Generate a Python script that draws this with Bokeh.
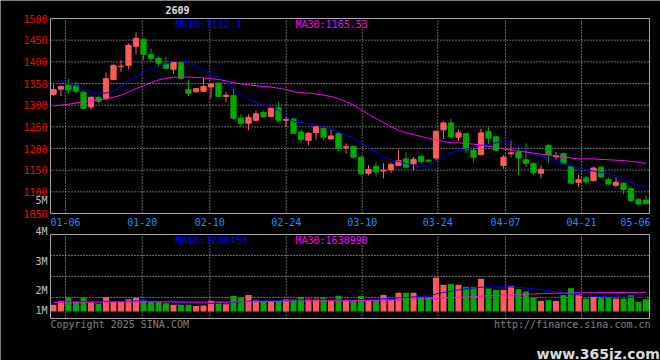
from bokeh.plotting import figure
from bokeh.models import ColumnDataSource, Range1d
from bokeh.core.properties import value
from bokeh.embed import file_html
from bokeh.resources import INLINE

# ---------------- data ----------------
dates = ["01-02", "01-03", "01-06", "01-07", "01-08", "01-09", "01-10", "01-13", "01-14", "01-15",
         "01-16", "01-17", "01-20", "01-21", "01-22", "01-23", "01-24", "01-27",
         "02-05", "02-06", "02-07", "02-10", "02-11", "02-12", "02-13", "02-14", "02-17", "02-18",
         "02-19", "02-20", "02-21", "02-24", "02-25", "02-26", "02-27", "02-28",
         "03-03", "03-04", "03-05", "03-06", "03-07", "03-10", "03-11", "03-12", "03-13", "03-14",
         "03-17", "03-18", "03-19", "03-20", "03-21", "03-24", "03-25", "03-26", "03-27", "03-28", "03-31",
         "04-01", "04-02", "04-03", "04-07", "04-08", "04-09", "04-10", "04-11", "04-14", "04-15",
         "04-16", "04-17", "04-18", "04-21", "04-22", "04-23", "04-24", "04-25", "04-28", "04-29", "04-30",
         "05-06", "05-07"]

open_ = [1325, 1337, 1346, 1345, 1330, 1296, 1318, 1316, 1359, 1389,
         1392, 1436, 1452, 1417, 1408, 1396, 1383, 1400, 1336, 1331,
         1332, 1342, 1351, 1320, 1322, 1270, 1258, 1265, 1283, 1274,
         1294, 1265, 1268, 1238, 1219, 1237, 1246, 1222, 1234, 1202,
         1205, 1180, 1143, 1159, 1148, 1151, 1161, 1176, 1165, 1182,
         1173, 1178, 1243, 1259, 1226, 1234, 1196, 1186, 1239, 1227,
         1161, 1188, 1192, 1174, 1165, 1143, 1207, 1181, 1188, 1158,
         1122, 1132, 1126, 1157, 1128, 1115, 1120, 1107, 1082, 1081]
high = [1348, 1345, 1361, 1355, 1334, 1322, 1322, 1375, 1394, 1404,
        1442, 1468, 1453, 1431, 1414, 1412, 1401, 1401, 1359, 1340,
        1363, 1350, 1353, 1330, 1338, 1280, 1279, 1288, 1287, 1294,
        1307, 1272, 1272, 1244, 1238, 1253, 1251, 1243, 1238, 1212,
        1207, 1181, 1162, 1168, 1166, 1168, 1197, 1192, 1180, 1184,
        1176, 1241, 1263, 1268, 1244, 1236, 1203, 1246, 1249, 1229,
        1184, 1218, 1203, 1213, 1168, 1161, 1211, 1192, 1191, 1162,
        1140, 1137, 1158, 1158, 1133, 1134, 1123, 1112, 1086, 1092]
low = [1321, 1321, 1327, 1327, 1290, 1290, 1305, 1313, 1358, 1377,
       1383, 1417, 1404, 1400, 1389, 1383, 1372, 1359, 1321, 1329,
       1331, 1315, 1318, 1307, 1266, 1251, 1242, 1263, 1271, 1272,
       1261, 1249, 1234, 1212, 1207, 1221, 1219, 1221, 1193, 1188,
       1176, 1139, 1138, 1135, 1131, 1143, 1159, 1155, 1150, 1164,
       1167, 1172, 1222, 1224, 1218, 1190, 1168, 1184, 1211, 1193,
       1153, 1180, 1139, 1157, 1138, 1131, 1167, 1174, 1163, 1118,
       1111, 1117, 1124, 1132, 1116, 1112, 1095, 1076, 1068, 1070]
close = [1336, 1343, 1335, 1332, 1293, 1318, 1309, 1361, 1392, 1390,
         1438, 1454, 1417, 1408, 1397, 1385, 1400, 1362, 1327, 1338,
         1343, 1349, 1320, 1323, 1270, 1258, 1272, 1280, 1273, 1293,
         1265, 1267, 1235, 1221, 1235, 1250, 1226, 1229, 1200, 1204,
         1180, 1142, 1152, 1146, 1150, 1163, 1172, 1157, 1175, 1170,
         1171, 1240, 1259, 1227, 1236, 1197, 1180, 1236, 1224, 1196,
         1180, 1190, 1178, 1166, 1144, 1152, 1185, 1183, 1165, 1120,
         1128, 1123, 1155, 1134, 1118, 1122, 1105, 1080, 1072, 1073]

ma10 = [1355, 1353, 1350, 1345, 1338, 1330, 1327, 1328, 1333, 1343,
        1356, 1366, 1376, 1383, 1390, 1396, 1401, 1401, 1397, 1390,
        1380, 1374, 1365, 1352, 1338, 1326, 1314, 1306, 1301, 1297,
        1288, 1275, 1262, 1260, 1257, 1254, 1250, 1245, 1238, 1231,
        1224, 1213, 1201, 1192, 1180, 1174, 1170, 1165, 1161, 1159,
        1160, 1170, 1182, 1190, 1195, 1199, 1203, 1207, 1210, 1213,
        1217, 1213, 1206, 1197, 1188, 1182, 1177, 1172, 1165, 1160,
        1155, 1151, 1148, 1145, 1142, 1136, 1128, 1121, 1115, 1112.1]
ma30 = [1298, 1300, 1302, 1305, 1308, 1310, 1312, 1314, 1318, 1323,
        1330, 1338, 1345, 1352, 1358, 1362, 1364, 1365, 1365, 1364,
        1363, 1361, 1359, 1356, 1352, 1349, 1347, 1345, 1343, 1342,
        1339, 1336, 1331, 1329, 1328, 1326, 1323, 1320, 1315, 1308,
        1300, 1290, 1279, 1269, 1260, 1250, 1242, 1236, 1232, 1228,
        1223, 1220, 1216, 1213, 1213, 1212, 1210, 1208, 1205, 1203,
        1199, 1197, 1194, 1192, 1189, 1187, 1185, 1183, 1181, 1178,
        1176, 1176, 1176, 1175, 1174, 1173, 1172, 1170, 1168, 1165.53]

volume = [570000, 910000, 1170000, 830000, 1170000, 770000, 680000, 1250000, 850000, 830000,
          1050000, 1170000, 1000000, 830000, 830000, 710000, 570000, 570000, 570000, 460000,
          510000, 910000, 830000, 630000, 1340000, 1170000, 1420000, 1000000, 830000, 830000,
          830000, 1050000, 1050000, 1250000, 1110000, 1110000, 1170000, 910000, 1340000, 910000,
          910000, 1340000, 910000, 970000, 1420000, 1000000, 1600000, 1600000, 1600000, 1250000,
          1200000, 2900000, 2280000, 2360000, 2280000, 2110000, 2110000, 2790000, 1970000, 1850000,
          1850000, 2190000, 1910000, 1710000, 1200000, 910000, 1000000, 910000, 1400000, 2000000,
          1480000, 1110000, 1250000, 1200000, 1200000, 1110000, 1110000, 1400000, 830000, 1050000]
vol_ma10 = [800000, 800000, 820000, 850000, 850000, 850000, 870000, 870000, 870000, 870000,
            880000, 900000, 920000, 900000, 880000, 850000, 800000, 760000, 740000, 720000,
            700000, 700000, 700000, 720000, 780000, 830000, 880000, 910000, 910000, 910000,
            940000, 970000, 980000, 1000000, 1000000, 1020000, 1020000, 1000000, 980000, 980000,
            1000000, 1020000, 1040000, 1060000, 1100000, 1120000, 1160000, 1200000, 1240000, 1260000,
            1300000, 1500000, 1620000, 1740000, 1840000, 1940000, 2000000, 2080000, 2100000, 2120000,
            2120000, 2100000, 2060000, 2000000, 1940000, 1860000, 1780000, 1680000, 1580000, 1500000,
            1420000, 1360000, 1320000, 1280000, 1260000, 1240000, 1220000, 1220000, 1210000, 1208453]
vol_ma30 = [780000, 780000, 790000, 790000, 800000, 800000, 800000, 800000, 810000, 810000,
            820000, 820000, 820000, 820000, 820000, 820000, 820000, 810000, 810000, 800000,
            800000, 800000, 800000, 800000, 810000, 820000, 830000, 840000, 850000, 860000,
            870000, 880000, 880000, 890000, 900000, 900000, 910000, 910000, 920000, 920000,
            930000, 940000, 950000, 960000, 970000, 980000, 1000000, 1020000, 1040000, 1060000,
            1080000, 1120000, 1160000, 1190000, 1220000, 1250000, 1280000, 1310000, 1340000, 1370000,
            1400000, 1420000, 1450000, 1480000, 1500000, 1520000, 1540000, 1560000, 1570000, 1580000,
            1590000, 1600000, 1600000, 1610000, 1610000, 1620000, 1620000, 1630000, 1630000, 1630990]

price_ticks = [1050, 1100, 1150, 1200, 1250, 1300, 1350, 1400, 1450, 1500]
date_labels = ["01-06", "01-20", "02-10", "02-24", "03-10", "03-24", "04-07", "04-21", "05-06"]
vol_tick_labels = ["5M", "4M", "3M", "2M", "1M"]
price_legend = ["MA10:1112.1", "MA30:1165.53"]
vol_legend = ["MA10:1208453", "MA30:1630990"]
stock_code = "2609"
copyright_text = "Copyright 2025 SINA.COM"
url_text = "http://finance.sina.com.cn"
watermark = "www.365jz.com"

# ---------------- layout / style ----------------
RED = "#ff5a5a"
GREEN = "#00a800"
BLUE = "#0000ff"
MAGENTA = "#ff00ff"
GRID = "#c8c8c8"
FRAME = "#a8a8a8"
FONT = "DejaVu Sans Mono"
W, H = 660, 360

# Sina's date grid / label positions, in candle units
xgrid_pos = [1.6, 11.83, 20.84, 31.03, 41.16, 51.24, 60.27, 70.4]
xlabel_pos = xgrid_pos + [77.6]


# pixel -> data helpers (only used for placing frames, grids and texts)
def xd(px):
    return (px - 53) / 7.5


def yp(py):
    return 1500 - (py - 18) * 450.0 / 195.0


def yv(py):
    return (311 - py) / 11.7e-6


n = len(close)
idx = list(range(n))
colors = [RED if c >= o else GREEN for o, c in zip(open_, close)]
src = ColumnDataSource(dict(
    x=idx, o=open_, h=high, l=low, c=close,
    top=[max(o, c) for o, c in zip(open_, close)],
    bottom=[min(o, c) for o, c in zip(open_, close)],
    color=colors, vol=volume, ma10=ma10, ma30=ma30,
    vma10=vol_ma10, vma30=vol_ma30, date=dates))

p = figure(width=W, height=H,
           x_range=Range1d(xd(0), xd(W)), y_range=Range1d(yp(H), yp(0)),
           output_backend="svg", toolbar_location=None,
           x_axis_location=None, y_axis_location=None,
           min_border=0, min_border_left=0, min_border_right=0,
           min_border_top=0, min_border_bottom=0,
           background_fill_color="black", border_fill_color="black",
           outline_line_color=None)
p.extra_y_ranges = {"vol": Range1d(yv(H), yv(0))}
p.xgrid.visible = False
p.ygrid.visible = False

L, R = xd(50), xd(649)
VT, VB = yv(234), yv(318)

# ----- grids (dotted) -----
hg = price_ticks[1:-1]
p.segment(x0=[L] * len(hg), x1=[R] * len(hg), y0=hg, y1=hg,
          line_color=GRID, line_dash="1 2", line_width=1)
p.segment(x0=xgrid_pos, x1=xgrid_pos, y0=[1050] * len(xgrid_pos), y1=[1500] * len(xgrid_pos),
          line_color=GRID, line_dash="1 2", line_width=1)
vg = [yv(255), yv(276), yv(297)]
p.segment(x0=[L] * 3, x1=[R] * 3, y0=vg, y1=vg, y_range_name="vol",
          line_color=GRID, line_dash="1 2", line_width=1)
p.segment(x0=xgrid_pos, x1=xgrid_pos, y0=[VB] * len(xgrid_pos), y1=[VT] * len(xgrid_pos),
          y_range_name="vol", line_color=GRID, line_dash="1 2", line_width=1)

# ----- price panel -----
p.segment(x0="x", y0="l", x1="x", y1="h", color="color", line_width=1, source=src)
p.vbar(x="x", width=0.7, top="top", bottom="bottom", fill_color="color",
       line_color="color", line_width=1, source=src)
p.line("x", "ma10", color=BLUE, line_width=1, source=src)
p.line("x", "ma30", color=MAGENTA, line_width=1, source=src)

# ----- volume panel -----
p.vbar(x="x", width=0.8, top="vol", bottom=0, fill_color="color", line_color=None,
       source=src, y_range_name="vol")
p.line("x", "vma10", color=BLUE, line_width=1, source=src, y_range_name="vol")
p.line("x", "vma30", color=MAGENTA, line_width=1, source=src, y_range_name="vol")

# ----- frames -----
p.quad(left=[L], right=[R], top=[1500], bottom=[1050], fill_color=None,
       line_color=FRAME, line_width=1)
p.quad(left=[L], right=[R], top=[VT], bottom=[VB], fill_color=None,
       line_color=FRAME, line_width=1, y_range_name="vol")


# ----- texts -----
def txt(xs, ys, texts, color, align="left", baseline="middle", size="10px",
        font=FONT, style="normal", rng="default"):
    p.text(x=xs, y=ys, text=texts, text_color=color, text_align=align,
           text_baseline=baseline, text_font=value(font), text_font_size=size,
           text_font_style=style, y_range_name=rng)


txt([xd(47)] * len(price_ticks), price_ticks, [str(t) for t in price_ticks], "#ff0000",
    align="right")
txt(xlabel_pos, [yp(221)] * len(xlabel_pos), date_labels, "#1e90ff", align="center")
txt([xd(175)], [yp(18.5)], [price_legend[0]], BLUE, baseline="top")
txt([xd(295)], [yp(18.5)], [price_legend[1]], MAGENTA, baseline="top")
txt([xd(47)], [yp(200)], [vol_tick_labels[0]], "#c0c0c0", align="right")
txt([xd(165)], [yp(9.5)], [stock_code], "#e0e0e0", style="bold")

txt([xd(47)] * 4, [yv(231), yv(260.5), yv(289.5), yv(310)], vol_tick_labels[1:],
    "#c0c0c0", align="right", rng="vol")
txt([xd(175)], [yv(234.5)], [vol_legend[0]], BLUE, baseline="top", rng="vol")
txt([xd(295)], [yv(234.5)], [vol_legend[1]], MAGENTA, baseline="top", rng="vol")
txt([xd(50)], [yv(324)], [copyright_text], "#808080", rng="vol")
txt([xd(650)], [yv(324)], [url_text], "#808080", align="right", rng="vol")
txt([xd(536)], [yv(353)], [watermark], "#dcdcdc", baseline="alphabetic", size="14px",
    font="DejaVu Sans", style="bold", rng="vol")

open("out.html", "w").write(file_html(p, INLINE))
